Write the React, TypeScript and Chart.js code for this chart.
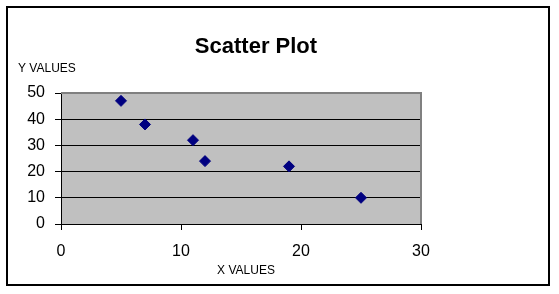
import React, { useEffect, useRef } from "react";
import { Chart, registerables } from "chart.js";

Chart.register(...registerables);

const xValues = [5, 7, 11, 12, 19, 25];
const yValues = [47, 38, 32, 24, 22, 10];
const titleText = "Scatter Plot";
const yAxisLabel = "Y VALUES";
const xAxisLabel = "X VALUES";

const FONT = "'Liberation Sans', Arial, sans-serif";

const decorPlugin = {
  id: "decor",
  beforeDraw(chart: any) {
    const { ctx, chartArea } = chart;
    ctx.save();
    ctx.fillStyle = "#ffffff";
    ctx.fillRect(0, 0, chart.width, chart.height);
    ctx.fillStyle = "#C0C0C0";
    ctx.fillRect(chartArea.left, chartArea.top, chartArea.right - chartArea.left, chartArea.bottom - chartArea.top);
    ctx.restore();
  },
  beforeDatasetsDraw(chart: any) {
    const { ctx, chartArea } = chart;
    ctx.save();
    ctx.strokeStyle = "#808080";
    ctx.lineWidth = 2;
    ctx.beginPath();
    ctx.moveTo(chartArea.left, chartArea.top);
    ctx.lineTo(chartArea.right, chartArea.top);
    ctx.lineTo(chartArea.right, chartArea.bottom);
    ctx.stroke();
    ctx.restore();
  },
  afterDraw(chart: any) {
    const { ctx } = chart;
    ctx.save();
    // outer border
    ctx.strokeStyle = "#000000";
    ctx.lineWidth = 2;
    ctx.strokeRect(7, 7, 542, 278);
    // title
    ctx.fillStyle = "#000000";
    ctx.font = `bold 22px ${FONT}`;
    ctx.textAlign = "center";
    ctx.textBaseline = "alphabetic";
    ctx.fillText(titleText, 256, 53);
    // axis labels
    ctx.font = `12px ${FONT}`;
    ctx.textAlign = "left";
    ctx.textBaseline = "middle";
    ctx.fillText(yAxisLabel, 18, 69);
    ctx.textAlign = "center";
    ctx.fillText(xAxisLabel, 246, 271);
    ctx.restore();
  },
};

export default function App() {
  const ref = useRef<HTMLCanvasElement | null>(null);

  useEffect(() => {
    if (!ref.current) return;
    const chart = new Chart(ref.current, {
      type: "scatter",
      data: {
        datasets: [
          {
            data: xValues.map((x, i) => ({ x, y: yValues[i] })),
            pointStyle: "rectRot",
            pointRadius: 5.5,
            pointBackgroundColor: "#000080",
            pointBorderColor: "#000080",
            pointBorderWidth: 1,
          },
        ],
      },
      options: {
        responsive: false,
        animation: false,
        events: [],
        layout: { padding: { top: 93, right: 138, bottom: 0, left: 0 } },
        plugins: {
          legend: { display: false },
          title: { display: false },
          tooltip: { enabled: false },
        },
        scales: {
          x: {
            type: "linear",
            min: 0,
            max: 30,
            afterFit: (s: any) => {
              s.height = 70;
            },
            ticks: {
              stepSize: 10,
              color: "#000000",
              font: { family: FONT, size: 16 },
              padding: 12,
              maxRotation: 0,
            },
            grid: {
              drawOnChartArea: false,
              color: "#000000",
              tickLength: 6,
            },
            border: { color: "#000000", width: 1 },
          },
          y: {
            type: "linear",
            min: 0,
            max: 50,
            afterFit: (s: any) => {
              s.width = 61;
            },
            ticks: {
              stepSize: 10,
              color: "#000000",
              font: { family: FONT, size: 16 },
              padding: 10,
            },
            grid: {
              color: (c: any) => (c.tick && c.tick.value === 50 ? "rgba(0,0,0,0)" : "#000000"),
              tickColor: "#000000",
              tickLength: 6,
            },
            border: { color: "#000000", width: 1 },
          },
        },
      },
      plugins: [decorPlugin],
    } as any);
    return () => chart.destroy();
  }, []);

  return (
    <div style={{ position: "absolute", left: 0, top: 0, width: 559, height: 294, background: "#fff" }}>
      <canvas ref={ref} width={559} height={294} style={{ width: 559, height: 294, display: "block" }} />
    </div>
  );
}
